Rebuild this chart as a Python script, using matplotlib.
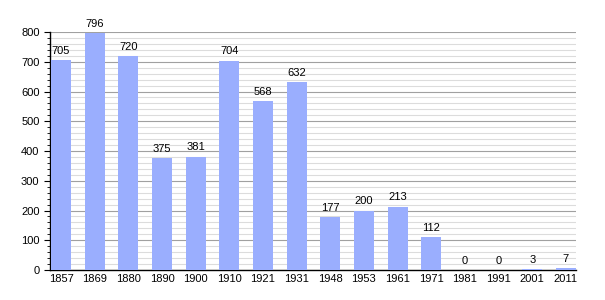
import matplotlib
matplotlib.use("Agg")
import matplotlib.pyplot as plt
from matplotlib.ticker import MultipleLocator

years = ["1857", "1869", "1880", "1890", "1900", "1910", "1921", "1931",
         "1948", "1953", "1961", "1971", "1981", "1991", "2001", "2011"]
population = [705, 796, 720, 375, 381, 704, 568, 632,
              177, 200, 213, 112, 0, 0, 3, 7]

plt.rcParams["font.family"] = ["Liberation Sans", "DejaVu Sans"]

fig = plt.figure(figsize=(6.05, 3.0), dpi=100)
ax = fig.add_axes([0.0826, 0.1, 0.8694, 0.7933])

x = list(range(len(years)))
ax.bar(x, population, width=0.6, color="#9aaefe", zorder=3)
for xi, v in zip(x, population):
    ax.text(xi, v + 14, str(v), ha="center", va="bottom", fontsize=8, zorder=4)

ax.set_xlim(-0.33, 15.3)
ax.set_ylim(0, 800)
ax.set_xticks(x)
ax.set_xticklabels(years, fontsize=8)
ax.yaxis.set_major_locator(MultipleLocator(100))
ax.yaxis.set_minor_locator(MultipleLocator(20))
ax.tick_params(axis="y", which="major", labelsize=8, length=4, width=0.8)
ax.tick_params(axis="y", which="minor", length=2, width=0.6)
ax.tick_params(axis="x", length=0, pad=3)

ax.grid(axis="y", which="major", color="#a0a0a0", linewidth=0.8, zorder=1)
ax.grid(axis="y", which="minor", color="#dcdcdc", linewidth=0.8, zorder=1)
ax.set_axisbelow(True)

for side in ("top", "right"):
    ax.spines[side].set_visible(False)
ax.spines["left"].set_linewidth(1.0)
ax.spines["bottom"].set_linewidth(1.0)

fig.savefig("out.png", dpi=100)
